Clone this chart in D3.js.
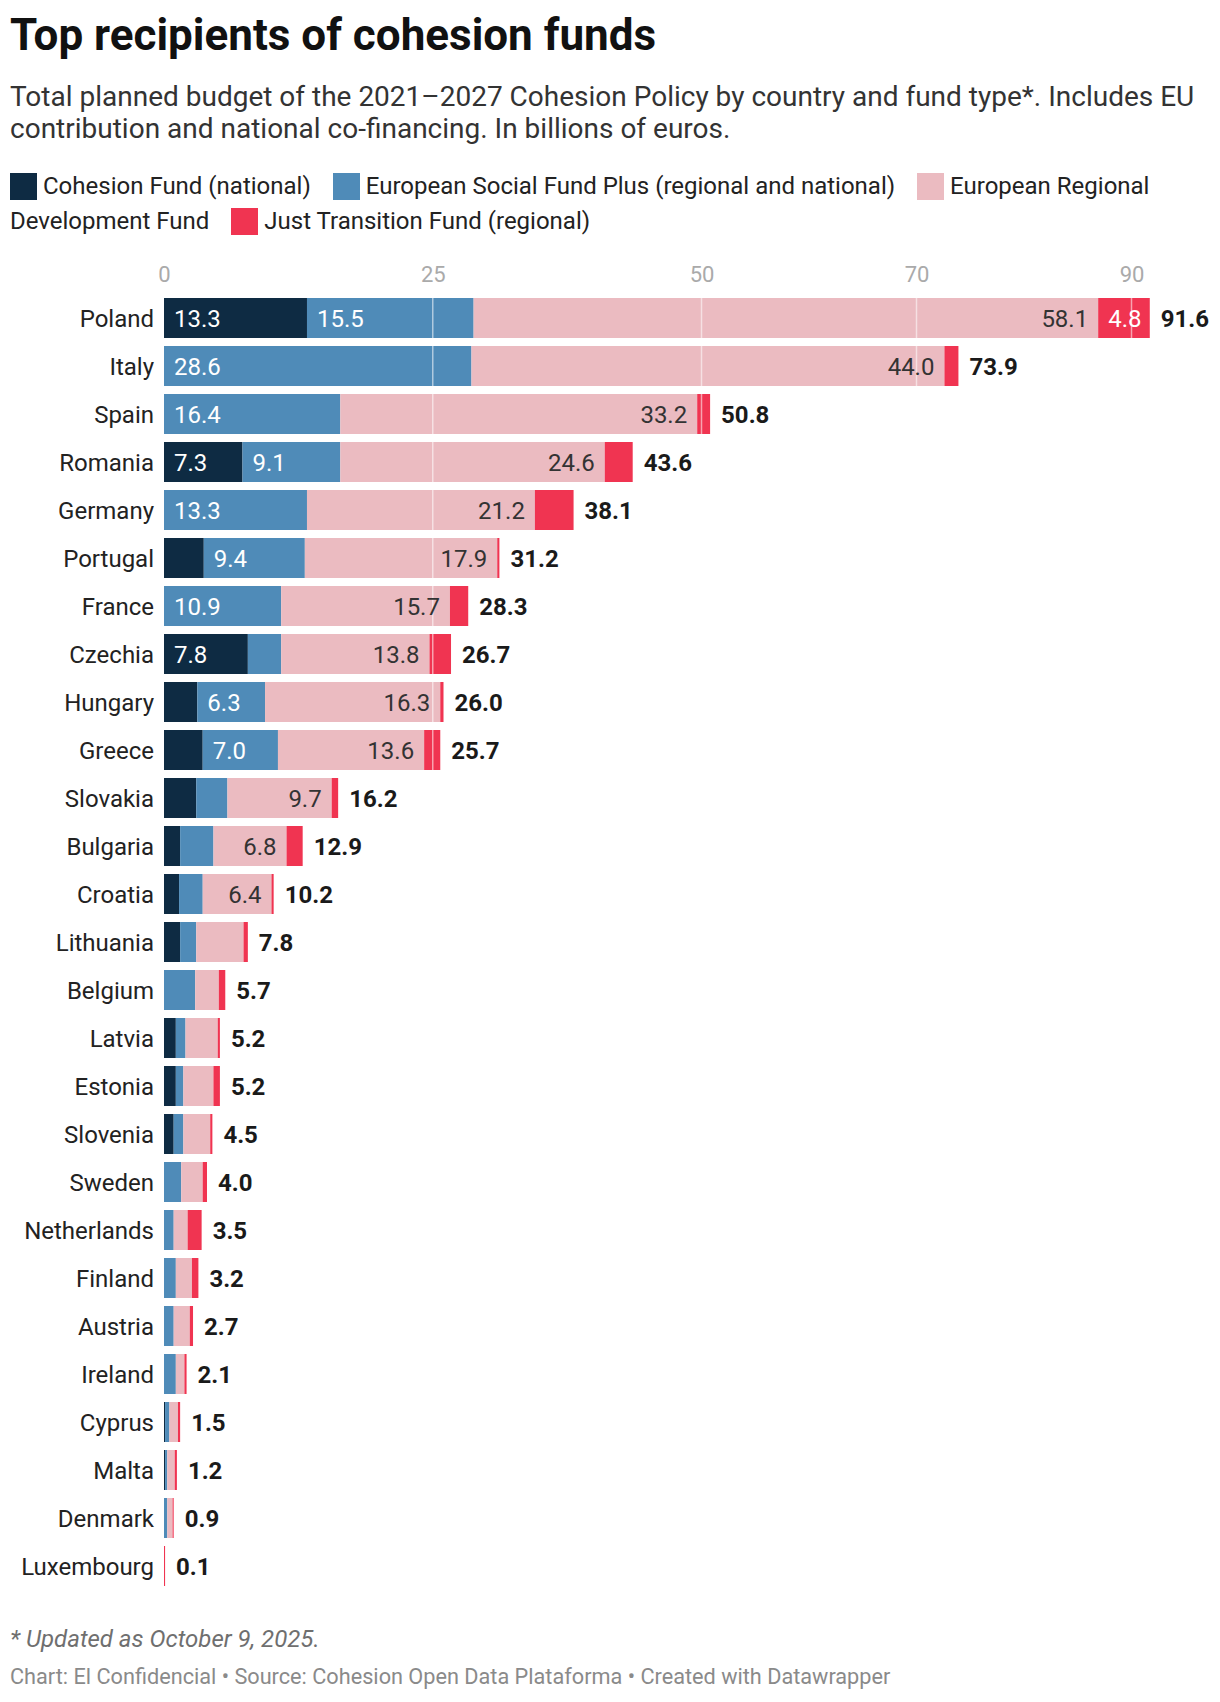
<!DOCTYPE html>
<html>
<head>
<meta charset="utf-8">
<script src="https://cdn.jsdelivr.net/npm/d3@7"></script>
<style>
  body { margin: 0; background: #fff; font-family: Roboto, "Noto Sans", sans-serif; }
  #wrap { position: relative; width: 1220px; height: 1702px; overflow: hidden; }
  #chart { position: absolute; left: 0; top: 0; }
  #legend { position: absolute; left: 10px; top: 169px; width: 1200px; font-size: 24px; line-height: 35px; color: #222; }
  #legend .sw { display: inline-block; width: 27px; height: 27px; vertical-align: -6px; margin-right: 6px; }
  #legend .last { margin-right: 16px; }
</style>
</head>
<body>
<div id="wrap">
  <svg id="chart" width="1220" height="1702"></svg>
  <div id="legend"></div>
</div>
<script>
const countries = ["Poland","Italy","Spain","Romania","Germany","Portugal","France","Czechia","Hungary","Greece","Slovakia","Bulgaria","Croatia","Lithuania","Belgium","Latvia","Estonia","Slovenia","Sweden","Netherlands","Finland","Austria","Ireland","Cyprus","Malta","Denmark","Luxembourg"];
const cohesionFund = [13.3,0,0,7.3,0,3.7,0,7.8,3.1,3.6,3.0,1.5,1.4,1.5,0,1.1,1.1,0.9,0,0,0,0,0,0.1,0.1,0,0];
const esfPlus      = [15.5,28.6,16.4,9.1,13.3,9.4,10.9,3.1,6.3,7.0,2.9,3.1,2.2,1.5,2.9,0.9,0.7,0.9,1.6,0.9,1.1,0.9,1.1,0.4,0.2,0.3,0];
const erdf         = [58.1,44.0,33.2,24.6,21.2,17.9,15.7,13.8,16.3,13.6,9.7,6.8,6.4,4.4,2.2,3.0,2.8,2.5,2.0,1.3,1.5,1.5,0.8,0.8,0.7,0.5,0];
const jtf          = [4.8,1.3,1.2,2.6,3.6,0.2,1.7,2.0,0.3,1.5,0.6,1.5,0.2,0.4,0.6,0.2,0.6,0.2,0.4,1.3,0.6,0.3,0.2,0.2,0.2,0.1,0.1];
const totals       = [91.6,73.9,50.8,43.6,38.1,31.2,28.3,26.7,26.0,25.7,16.2,12.9,10.2,7.8,5.7,5.2,5.2,4.5,4.0,3.5,3.2,2.7,2.1,1.5,1.2,0.9,0.1];

const seriesKeys   = ["cf","esf","erdf","jtf"];
const seriesNames  = ["Cohesion Fund (national)","European Social Fund Plus (regional and national)","European Regional Development Fund","Just Transition Fund (regional)"];
const seriesColors = ["#0e2b43","#4f8bb8","#ebbbc1","#f03451"];
const labelColors  = ["#ffffff","#ffffff","#333333","#ffffff"];
const tickValues   = [0,25,50,70,90];

const titleText = "Top recipients of cohesion funds";
const subtitleLines = ["Total planned budget of the 2021\u20132027 Cohesion Policy by country and fund type*. Includes EU",
                       "contribution and national co-financing. In billions of euros."];
const noteText = "* Updated as October 9, 2025.";
const sourceText = "Chart: El Confidencial \u2022 Source: Cohesion Open Data Plataforma \u2022 Created with Datawrapper";

const rows = countries.map((c,i) => ({country:c, cf:cohesionFund[i], esf:esfPlus[i], erdf:erdf[i], jtf:jtf[i], total:totals[i]}));

const svg = d3.select("#chart");
const FONT = "Roboto, 'Noto Sans', sans-serif";

// Title / subtitle
svg.append("text").attr("x",10).attr("y",50).attr("font-family",FONT).attr("font-weight",700)
  .attr("font-size",44).attr("fill","#111").text(titleText);
svg.append("g").selectAll("text").data(subtitleLines).join("text")
  .attr("x",10).attr("y",(d,i)=>106+i*32).attr("font-family",FONT).attr("font-size",28).attr("fill","#333").text(d=>d);

// Legend (HTML flow so it wraps like the original); one span per word
const lg = d3.select("#legend");
seriesNames.forEach((n,i)=>{
  lg.append("span").attr("class","sw").style("background",seriesColors[i]);
  const words = n.split(" ");
  words.forEach((w,wi)=>{
    lg.append("span").attr("class", wi === words.length-1 ? "last" : null).text(w);
    lg.append(() => document.createTextNode(" "));
  });
});

// Scales
const x0 = 164, pxPerUnit = 10.75;
const maxV = 91.6;
const x = d3.scaleLinear().domain([0,maxV]).range([x0, x0 + maxV*pxPerUnit]);
const y = d3.scaleBand().domain(countries).range([294, 294 + 48*countries.length]).paddingInner(8/48).paddingOuter(4/48);

// Axis labels (top)
const axis = d3.axisTop(x).tickValues(tickValues).tickSize(0).tickPadding(0).tickFormat(d3.format("d"));
const ag = svg.append("g").attr("transform","translate(0,282)").call(axis);
ag.select(".domain").remove();
ag.selectAll("text").attr("font-family",FONT).attr("font-size",22).attr("fill","#aaaaaa").attr("dy",0);

// Stacked bars
const stack = d3.stack().keys(seriesKeys)(rows);
const layers = svg.append("g").selectAll("g").data(stack).join("g").attr("fill",(d,i)=>seriesColors[i]);
layers.selectAll("rect").data(d=>d).join("rect")
  .attr("x",d=>x(d[0])).attr("width",d=>Math.max(0,x(d[1])-x(d[0])))
  .attr("y",d=>y(d.data.country)).attr("height",y.bandwidth());

// Gridlines over bars
svg.append("g").selectAll("line").data(tickValues.filter(v=>v>0)).join("line")
  .attr("x1",d=>x(d)).attr("x2",d=>x(d)).attr("y1",y.range()[0]).attr("y2",y.range()[1])
  .attr("stroke","#ffffff").attr("stroke-opacity",0.55).attr("stroke-width",1.5);

// Segment value labels
const fmt = d3.format(".1f");
stack.forEach((layer,li)=>{
  const g = svg.append("g");
  layer.forEach(d=>{
    const v = d[1]-d[0];
    if (v <= 0) return;
    const w = x(d[1]) - x(d[0]);
    const rightAlign = li === 2;
    const t = g.append("text")
      .attr("x", rightAlign ? x(d[1]) - 10 : x(d[0]) + 10)
      .attr("y", y(d.data.country) + y.bandwidth()/2 + 8.5)
      .attr("text-anchor", rightAlign ? "end" : "start")
      .attr("font-family",FONT).attr("font-size",24).attr("fill",labelColors[li])
      .text(fmt(v));
    if (t.node().getComputedTextLength() + 16 > w) t.remove();
  });
});

// Totals
const ends = stack[stack.length-1];
svg.append("g").selectAll("text").data(ends).join("text")
  .attr("x",d=>x(d[1]) + 11).attr("y",d=>y(d.data.country)+y.bandwidth()/2+8.5)
  .attr("font-family",FONT).attr("font-weight",700).attr("font-size",24).attr("fill","#1a1a1a")
  .text(d=>fmt(d.data.total));

// Country labels
svg.append("g").selectAll("text").data(countries).join("text")
  .attr("x",x0-10).attr("y",d=>y(d)+y.bandwidth()/2+8.5).attr("text-anchor","end")
  .attr("font-family",FONT).attr("font-size",24).attr("fill","#222").text(d=>d);

// Footer
svg.append("text").attr("x",10).attr("y",1647).attr("font-family",FONT).attr("font-style","italic")
  .attr("font-size",24).attr("fill","#6f6f6f").text(noteText);
svg.append("text").attr("x",10).attr("y",1684).attr("font-family",FONT)
  .attr("font-size",21.7).attr("fill","#8a8a8a").text(sourceText);
</script>
</body>
</html>
